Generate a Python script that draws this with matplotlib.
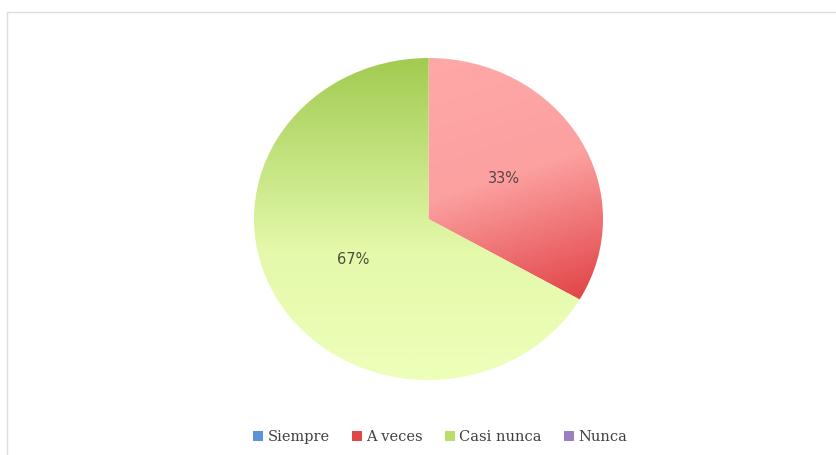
import numpy as np
import matplotlib.pyplot as plt
from matplotlib.colors import LinearSegmentedColormap
from matplotlib.patches import Patch, Rectangle

# datos
categorias = ['Siempre', 'A veces', 'Casi nunca', 'Nunca']
valores = [0, 1, 2, 0]
colores_leyenda = ['#5B93D8', '#E04848', '#BCDC6C', '#9B7FC4']

# gradientes de cada porción
grad_rojo = LinearSegmentedColormap.from_list('rojo', [(0, '#FFA8A8'), (0.5, '#FCA0A0'), (1, '#E2474A')])
grad_verde = LinearSegmentedColormap.from_list('verde', [(0, '#A2CB50'), (0.3, '#C2E27E'), (0.6, '#E4F9AA'), (1, '#EEFFBA')])

fig = plt.figure(figsize=(8.37, 4.55), dpi=100)

# marco claro del gráfico
fig.patches.append(Rectangle((7/837, -0.05), 1.0, 1 - 12/455 + 0.05, transform=fig.transFigure,
                             fill=False, edgecolor='#DCDCDC', linewidth=1.0))

ax = fig.add_axes([(428.5 - 174.5)/837, (455 - 380)/455, 349/837, 322/455])

def pct(p):
    return '%d%%' % round(p) if p > 0 else ''

wedges, textos, autotextos = ax.pie(valores, startangle=90, counterclock=False, colors=colores_leyenda,
                                    autopct=pct, pctdistance=0.5, radius=1.0,
                                    wedgeprops=dict(linewidth=0))
ax.axis('off')

# relleno con gradiente recortado a cada porción
xx, yy = np.meshgrid(np.linspace(-1, 1, 400), np.linspace(1, -1, 400))
s_rojo = -yy + 0.35 * xx
s_rojo = (s_rojo + 1.0) / (0.48 + 0.35 * 0.87 + 1.0)
s_verde = (1 - yy) / 2.0
for w, cmap, s in [(wedges[1], grad_rojo, s_rojo), (wedges[2], grad_verde, s_verde)]:
    w.set_facecolor('none')
    im = ax.imshow(np.clip(s, 0, 1), cmap=cmap, vmin=0, vmax=1, extent=(-1, 1, -1, 1),
                   aspect='auto', zorder=0.5, interpolation='bilinear')
    im.set_clip_path(w)

for t, c in zip(autotextos, ['#5A4444', '#5A4444', '#4A5238', '#5A4444']):
    t.set_color(c)
    t.set_fontsize(10.5)
    t.set_family('DejaVu Sans')
    t.set_zorder(3)

ax.set_xlim(-1, 1)
ax.set_ylim(-1, 1)
ax.set_aspect('auto')

manijas = [Patch(facecolor=c, edgecolor='none') for c in colores_leyenda]
fig.legend(manijas, categorias, loc='center', bbox_to_anchor=(440/837, 1 - 437/455), ncol=4,
           frameon=False, handlelength=0.7, handleheight=0.7, handletextpad=0.3, columnspacing=1.5,
           prop={'family': 'DejaVu Serif', 'size': 10.5}, labelcolor='#404040')

fig.savefig('out.png', dpi=100, facecolor='white')
